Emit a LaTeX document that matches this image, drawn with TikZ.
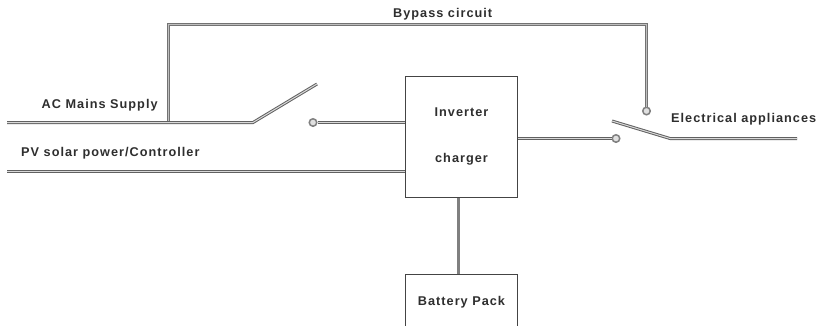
\documentclass[tikz,border=0pt]{standalone}
\usepackage{fontspec}
\setmainfont{Liberation Sans}[LetterSpace=8]
\definecolor{ink}{HTML}{444444}
\begin{document}
\begin{tikzpicture}[x=1pt,y=-1pt,
  wire/.style={draw=black!62,line width=1pt,double=black!15,double distance=1pt,line join=miter},
  heavywire/.style={draw=black!55,line width=1pt,double=black!25,double distance=1pt},
  batwire/.style={draw=black!50,line width=3.5pt},
  unitbox/.style={draw=ink,line width=1pt,fill=white,inner sep=0pt,font=\fontsize{12.7}{14}\selectfont\bfseries,text=black!82,align=center},
  lbl/.style={font=\fontsize{12.7}{14}\selectfont\bfseries,text=black!82,inner sep=0pt},
  contact/.style={circle,draw=black!50,line width=1.5pt,fill=black!12,minimum size=7.5pt,inner sep=0pt}]
\path[use as bounding box] (0,0) rectangle (820,325);
\clip (0,0) rectangle (820,325);
\node[unitbox,minimum width=112pt,minimum height=121pt] (inv) at (461.5,136.5) {Inverter\\[32pt]charger};
\node[unitbox,minimum width=112pt,minimum height=56pt] (bat) at (461.5,302) {\raisebox{2pt}{Battery Pack}};
\coordinate (acstart) at (7,122.5);
\coordinate (acjoin) at (168.5,122.5);
\coordinate (acknee) at (253,122.5);
\coordinate (actip) at (317,84);
\coordinate (pvstart) at (7,171.5);
\coordinate (pvend) at (inv.west |- pvstart);
\coordinate (bypassa) at (168.5,24.5);
\coordinate (bypassb) at (646.5,24.5);
\coordinate (swtip) at (612,121);
\coordinate (swknee) at (670,138.5);
\coordinate (loadend) at (797,138.5);
\coordinate (batx) at (458.5,0);
\node[contact] (c1) at (313,122.5) {};
\node[contact] (c2) at (646.5,111) {};
\node[contact] (c3) at (616,138.5) {};
\draw[heavywire] (acjoin) -- (bypassa) -- (bypassb) -- (c2);
\draw[wire] (acstart) -- (acknee) -- (actip);
\draw[wire] (pvstart) -- (pvend);
\draw[wire] (c1) -- (inv.west |- c1);
\draw[wire] (inv.east |- c3) -- (c3);
\draw[wire] (swtip) -- (swknee) -- (loadend);
\draw[batwire] (inv.south -| batx) -- (bat.north -| batx);
\node[lbl,anchor=west] (t1) at (41.5,105) {AC Mains Supply};
\node[lbl,anchor=west] (t2) at (21,153) {PV solar power/Controller};
\node[lbl,anchor=west] (t3) at (393,14) {Bypass circuit};
\node[lbl,anchor=west] (t4) at (671,119.5) {Electrical appliances};
\end{tikzpicture}
\end{document}
